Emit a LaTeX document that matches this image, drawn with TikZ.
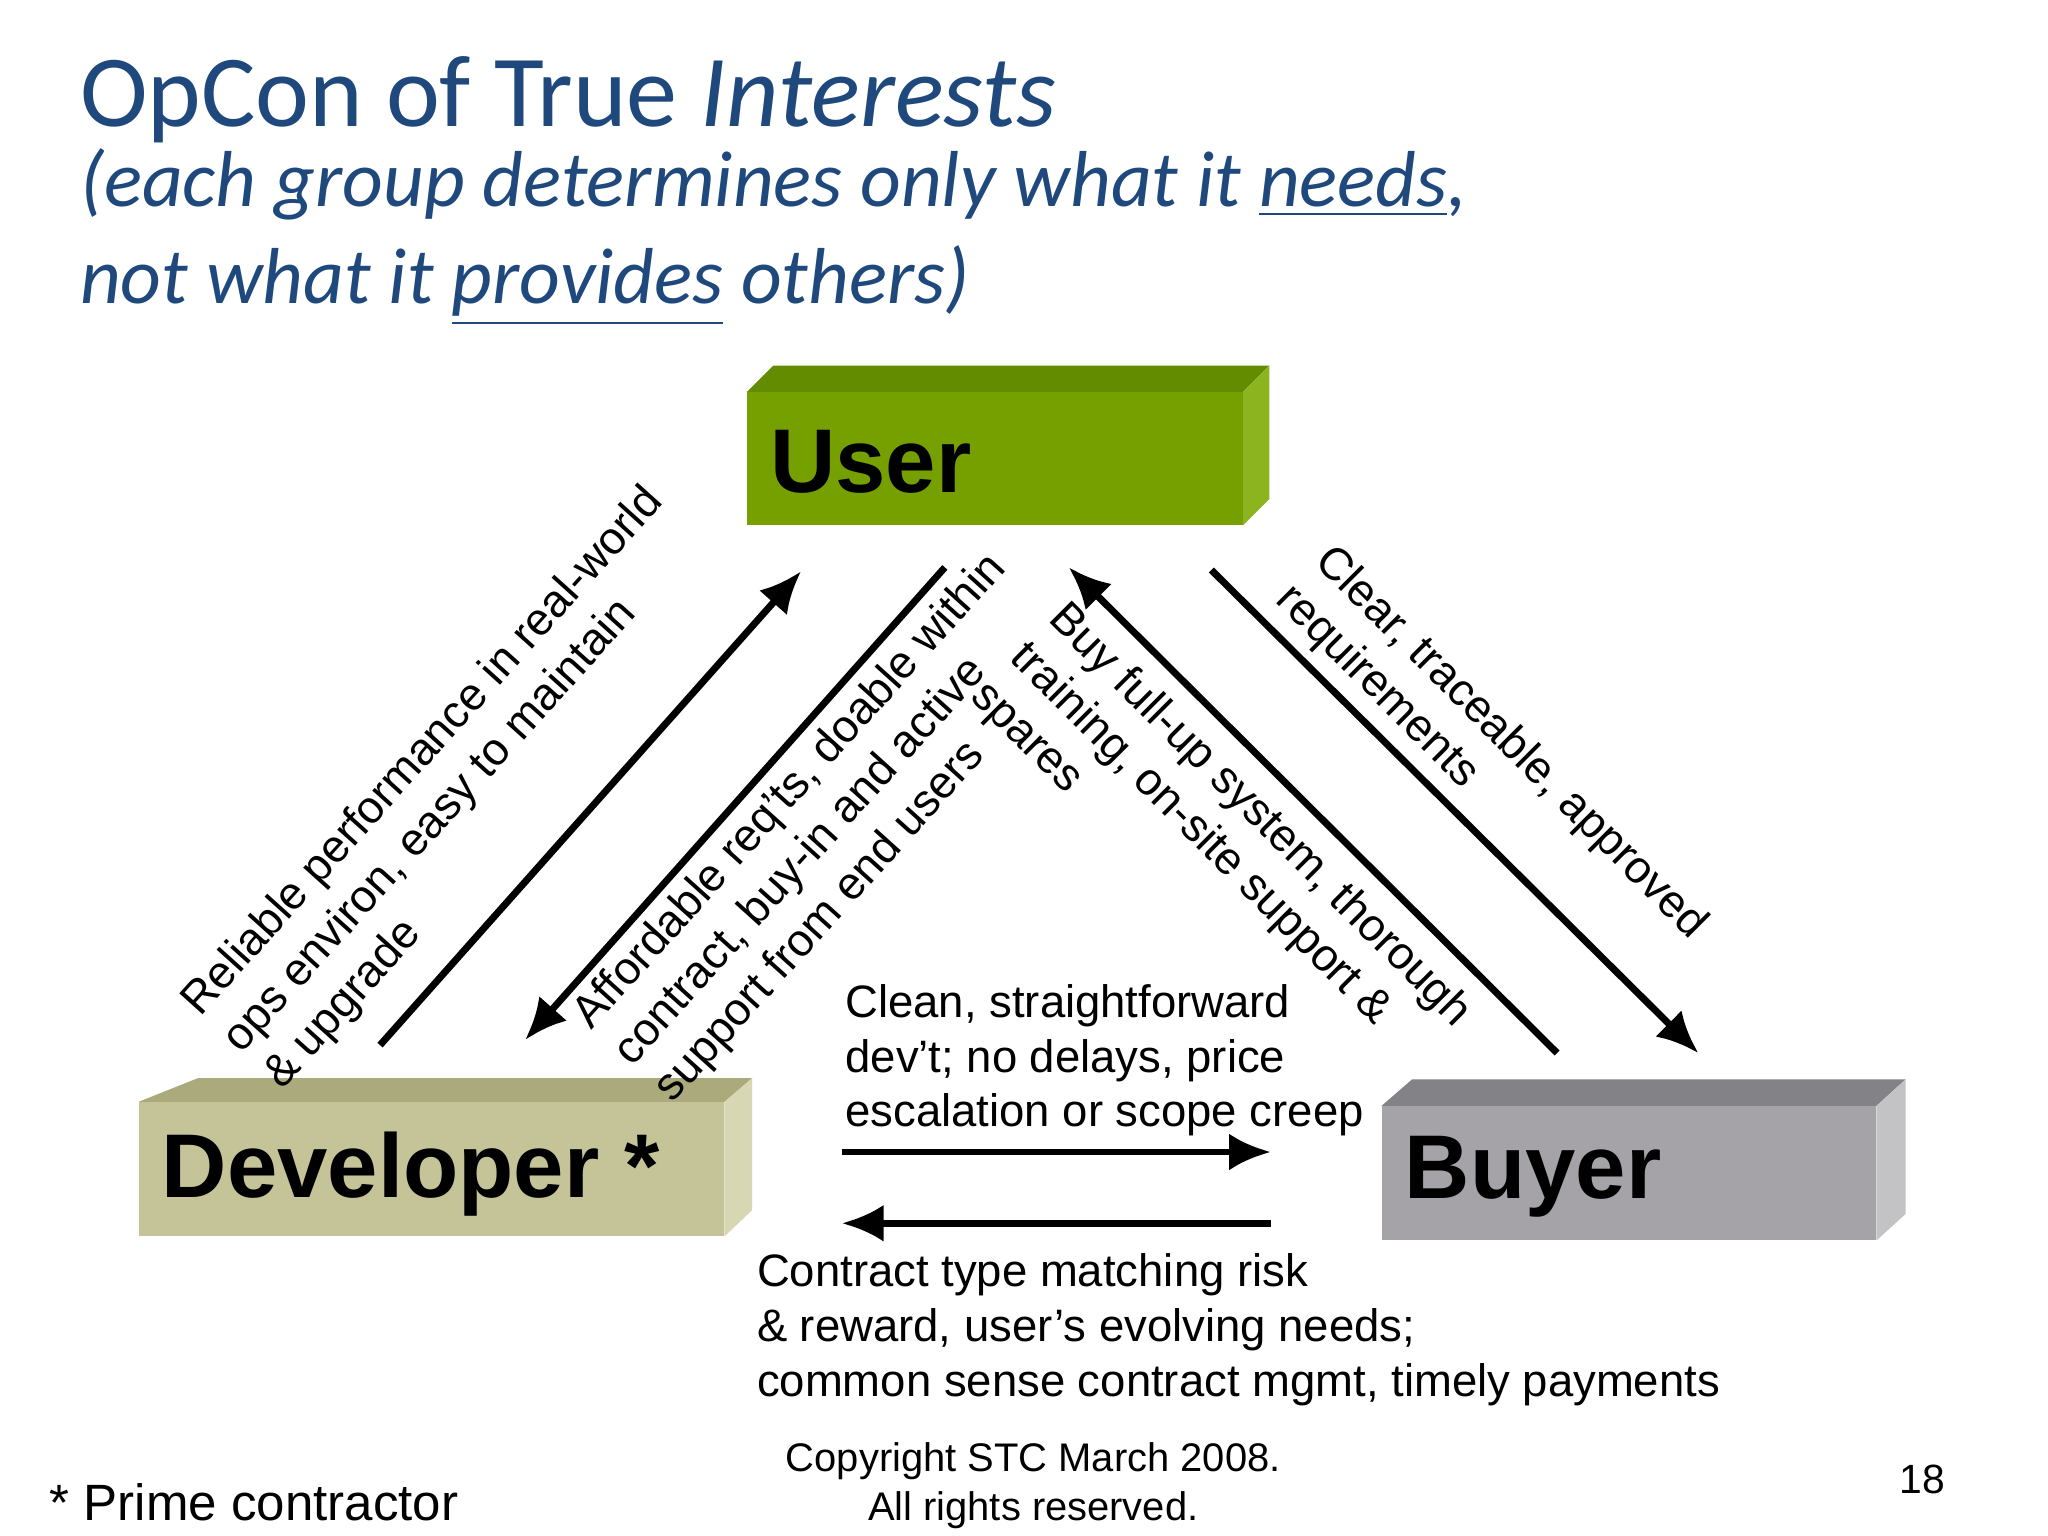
\documentclass[tikz,border=0pt]{standalone}
\usepackage{fontspec}
\setmainfont{Liberation Sans}
\newfontfamily\calfont{Carlito}
\usetikzlibrary{arrows.meta}
\definecolor{ttl}{RGB}{31,73,125}
\definecolor{ugtop}{RGB}{100,140,0}
\definecolor{ugside}{RGB}{140,180,30}
\definecolor{ugfront}{RGB}{118,160,0}
\definecolor{dvtop}{RGB}{170,170,125}
\definecolor{dvside}{RGB}{215,215,180}
\definecolor{dvfront}{RGB}{196,196,152}
\definecolor{bytop}{RGB}{130,130,135}
\definecolor{byside}{RGB}{195,195,198}
\definecolor{byfront}{RGB}{165,163,168}
\tikzset{arr/.style={line width=1.5pt,-{Latex[length=9pt,width=8pt]}},
lbl/.style={font=\fontsize{9.8}{11.8}\selectfont,align=left,inner sep=0pt},
box/.style={font=\fontsize{19.5}{20}\selectfont\bfseries,anchor=west,inner sep=0pt}}
\begin{document}
\begin{tikzpicture}[x=0.01cm,y=-0.01cm]
\useasboundingbox (0,0) rectangle (1552,1164);
\fill[white] (0,0) rectangle (1552,1164);
\node[anchor=base west,inner sep=0pt,text=ttl,font=\calfont\fontsize{22}{26}\selectfont] (t1) at (60,96) {OpCon of True \textit{Interests}};
\node[anchor=base west,inner sep=0pt,text=ttl,font=\calfont\fontsize{17.1}{20.8}\selectfont\itshape,align=left] (t2) at (60,230) {(each group determines only what it \underline{needs},\\ not what it \underline{provides} others)};
% User box
\fill[ugtop] (566,297) -- (586,277) -- (962,277) -- (942,297) -- cycle;
\fill[ugside] (942,297) -- (962,277) -- (962,378) -- (942,398) -- cycle;
\fill[ugfront] (566,297) rectangle (942,398);
\node[box] (user) at (583,350) {User};
% Developer box
\fill[dvtop] (105,835) -- (150,817) -- (570,817) -- (549,835) -- cycle;
\fill[dvside] (549,835) -- (570,817) -- (570,917) -- (549,937) -- cycle;
\fill[dvfront] (105,835) rectangle (549,937);
\node[box] (dev) at (122,890) {Developer *};
% Buyer box
\fill[bytop] (1047,838) -- (1070,818) -- (1444,818) -- (1422,838) -- cycle;
\fill[byside] (1422,838) -- (1444,818) -- (1444,920) -- (1422,940) -- cycle;
\fill[byfront] (1047,838) rectangle (1422,940);
\node[box] (buy) at (1064,892) {Buyer};
% arrows
\coordinate (a1s) at (288,792); \coordinate (a1e) at (607,433);
\coordinate (a2s) at (716,430); \coordinate (a2e) at (398,788);
\coordinate (a3s) at (1180,798); \coordinate (a3e) at (810,430);
\coordinate (a4s) at (918,432); \coordinate (a4e) at (1287,798);
\coordinate (a5s) at (638,873); \coordinate (a5e) at (963,873);
\coordinate (a6s) at (963,927); \coordinate (a6e) at (638,927);
\draw[arr] (a1s) -- (a1e);
\draw[arr] (a2s) -- (a2e);
\draw[arr] (a3s) -- (a3e);
\draw[arr] (a4s) -- (a4e);
\draw[arr] (a5s) -- (a5e);
\draw[arr] (a6s) -- (a6e);
% labels
\node[lbl,rotate=48] (l1) at (352,598) {Reliable performance in real-world\\ ops environ, easy to maintain\\ \& upgrade};
\node[lbl,rotate=48] (l2) at (630,628) {Affordable req'ts, doable within\\ contract, buy-in and active\\ support from end users};
\node[lbl,rotate=-45] (l3) at (925,648) {Buy full-up system, thorough\\ training, on-site support \&\\ spares};
\node[lbl,rotate=-45] (l4) at (1130,578) {Clear, traceable, approved\\ requirements};
\node[lbl,anchor=base west] (l5) at (640,854) {Clean, straightforward\\ dev't; no delays, price\\ escalation or scope creep};
\node[lbl,anchor=base west] (l6) at (573,1058) {Contract type matching risk\\ \& reward, user's evolving needs;\\ common sense contract mgmt, timely payments};
\node[inner sep=0pt,align=center,anchor=base,font=\fontsize{8.6}{10.5}\selectfont] (cp) at (783,1152) {Copyright STC March 2008.\\ All rights reserved.};
\node[inner sep=0pt,anchor=base,font=\fontsize{8.8}{11}\selectfont] (pg) at (1457,1132) {18};
\node[inner sep=0pt,anchor=base west,font=\fontsize{11}{13}\selectfont] (pc) at (37,1152) {* Prime contractor};
\end{tikzpicture}
\end{document}
